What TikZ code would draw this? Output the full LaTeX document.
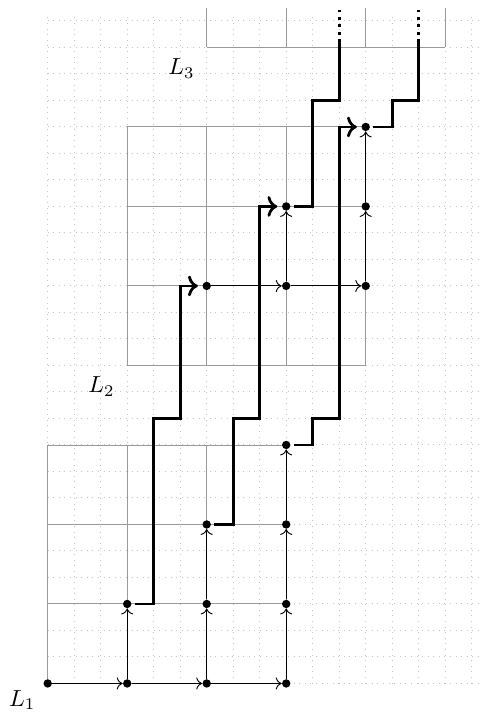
\documentclass[tikz,border=0pt]{standalone}
\usepackage{amsmath,amssymb}
\usepackage{xcolor}
\usepackage{tikz}
\usetikzlibrary{arrows.meta}
\definecolor{gridgray}{HTML}{9A9A9A}
\definecolor{dotgray}{HTML}{C4C4C4}
\tikzset{pt/.style={circle,fill,inner sep=0pt,minimum size=3.6pt},
  route/.style={very thick,shorten <=1.2pt}}

\begin{document}
\begin{tikzpicture}[x=0.4cm,y=0.4cm]
\useasboundingbox (-1.8,-1.19) rectangle (16.35,25.79);
\draw[dotgray,dotted,step=1] (0,0) grid (16.3,25.3);
\draw[gridgray,step=3] (0,0) grid (9,9); \draw[gridgray,step=3] (3,12) grid (12,21); \draw[gridgray,step=3] (6,24) grid (15,25.5);
\foreach \x/\y in {0/0,3/0,6/0,9/0,3/3,6/3,9/3,6/6,9/6,9/9,6/15,9/15,12/15,9/18,12/18,12/21} \node[pt] (p\x-\y) at (\x,\y) {};
\foreach \a/\b in {0-0/3-0,3-0/6-0,6-0/9-0,3-0/3-3,6-0/6-3,6-3/6-6,9-0/9-3,9-3/9-6,9-6/9-9,6-15/9-15,9-15/12-15,9-15/9-18,12-15/12-18,12-18/12-21} \draw[->] (p\a) -- (p\b);
\draw[route,shorten >=1.8pt,->] (p3-3) -| (4,10) -| (5,15) -- (p6-15);
\draw[route,shorten >=1.8pt,->] (p6-6) -| (7,10) -| (8,18) -- (p9-18);
\draw[route,shorten >=1.8pt,->] (p9-9) -| (10,10) -| (11,21) -- (p12-21);
\coordinate (cut1) at (11,24.2); \coordinate (cut2) at (14,24.2); \coordinate (top1) at (11,25.5); \coordinate (top2) at (14,25.5);
\draw[route] (p9-18) -| (10,22) -| (cut1); \draw[route] (p12-21) -| (13,22) -| (cut2);
\draw[very thick,dotted] (cut1) -- (top1); \draw[very thick,dotted] (cut2) -- (top2);
\node (lab1) at (-0.96,-0.62) {$L_1$}; \node (lab2) at (2.03,11.2) {$L_2$}; \node (lab3) at (5.05,23.2) {$L_3$};
\end{tikzpicture}
\end{document}
